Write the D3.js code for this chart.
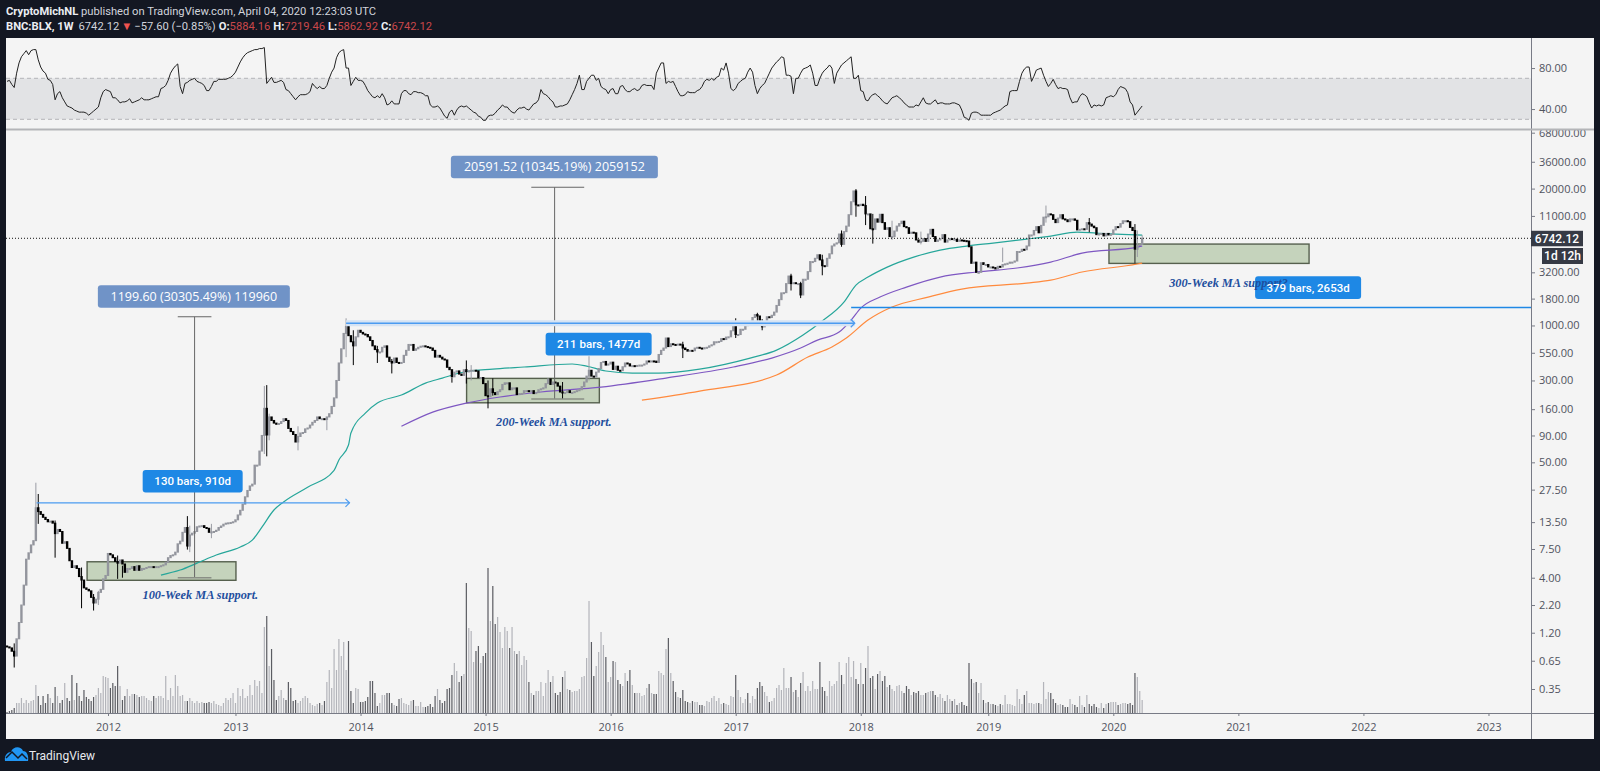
<!DOCTYPE html>
<html>
<head>
<meta charset="utf-8">
<script src="https://cdn.jsdelivr.net/npm/d3@7/dist/d3.min.js"></script>
<style>
html, body { margin: 0; padding: 0; background: #131722; overflow: hidden; }
svg { display: block; font-family: Roboto, sans-serif; }
</style>
</head>
<body>
<svg id="chart"></svg>
<script>
// weekly closes, one array per calendar year (first bar is mid March 2011)
const closes2011 = [.88,.86,.80,.72,1.05,1.5,2.2,3.4,6.0,6.9,8.2,9.0,18.5,17,16,15,14.3,13.6,13.8,13.2,10.5,11.5,11,8.5,8.8,7.6,5.8,5.0,5.2,4.9,4.1,3.8,3.2,3.1,3.0,2.6,2.3,2.5,2.9,3.1,3.9,4.2];
const closes2012 = [6.8,6.6,6.2,5.7,5.5,5.9,5.4,4.5,4.9,4.9,5.1,4.7,5.2,4.7,4.9,4.9,5,5.1,5.1,5,5.1,5.1,5.2,5.3,5.6,6.2,6.5,6.6,7,8.4,8.9,10.8,12,8,10.2,10.6,11,12.2,12.4,12.5,12,11.8,10.8,10.9,11,11.3,12,12.4,12.9,13.2,13.3,13.4,13.6];
const closes2013 = [14.2,15.8,17.5,20,23.5,27,29.8,31,47,47,64,90,163,91,135,125,118,115,117,122,130,125,105,98,92,78,88,95,96,104,106,113,120,125,135,130,130,128,135,145,170,205,300,440,600,840,980,800,700,640,780,900];
const closes2014 = [860,830,820,780,720,640,590,560,560,620,640,500,455,440,490,445,440,445,520,580,660,660,580,600,620,635,640,630,620,610,580,500,520,500,480,470,400,380,325,360,370,345,335,380,365,370,375,375,370,320,320,280];
const closes2015 = [215,210,250,230,220,235,245,275,285,285,245,255,255,220,225,226,240,240,238,240,225,230,245,250,255,280,310,275,290,285,265,233,228,230,240,230,231,235,240,245,262,290,330,375,330,325,360,390,445,455,420,430];
const closes2016 = [448,382,410,375,372,405,440,432,412,415,410,417,420,420,430,460,450,460,458,445,530,580,610,760,630,670,660,650,665,655,610,590,570,580,575,610,620,610,600,615,620,640,655,700,700,705,750,735,775,780,890,1000];
const closes2017 = [820,820,920,920,1020,1000,1050,1190,1270,1230,1020,970,1080,1210,1190,1250,1340,1550,1760,2040,2050,2500,2950,2500,2550,2500,2500,1950,2750,2750,3250,4050,4050,4350,4700,4200,3700,3650,4350,4800,5700,5950,6100,7400,5900,7800,8800,11300,15000,19000,14000,13800];
const closes2018 = [14200,13800,11500,11500,8300,8200,10300,9600,11400,9500,8200,8500,7000,7000,7900,8800,9300,9800,8700,8500,7500,7700,7600,6500,6200,6300,6700,6300,7400,8200,7000,6300,6500,6700,7300,6200,6500,6700,6600,6600,6300,6500,6450,6400,6350,5600,3900,4000,3200,3200,3950,3800,3800];
const closes2019 = [3600,3600,3550,3450,3650,3600,3800,3850,3900,4000,4000,4100,5050,5050,5300,5250,5700,7250,7250,8000,8700,7600,8950,10700,10800,11500,11300,10200,9500,10500,11300,10300,10100,9700,10300,10300,10000,8100,8200,8300,8200,9500,9200,8800,8500,7300,7400,7500,7100,7500,7250,7350];
const closes2020 = [8100,8700,8600,9300,9900,9900,9700,8550,8000,5300,5800,5880,6742.12];

// the longer wicks: [bar, high, low]
const wicks = [[3,.95,.56],[12,32,9],[13,25,13],[20,14,6.2],[31,5,2.05],[36,2.8,1.95],[38,3,2.2],[46,6.5,3.9],[48,5.2,4],[75,15.4,7.4],[76,12.5,7],[85,13,9.5],
  [107,266,60],[108,271,57],[109,145,81],[121,110,65],[133,135,101],[141,1170,500],[144,900,420],[154,640,440],[160,480,350],[185,320,286],[191,465,280],[193,420,300],
  [200,300,163],[202,314,215],[231,290,200],[242,510,300],[281,700,490],[303,1170,760],[312,1320,1000],[314,1150,900],[326,3100,2150],[330,2600,1820],[339,4700,3000],
  [347,8000,5600],[353,19800,10800],[357,17000,9000],[360,11500,6000],[368,9900,6500],[380,7800,5900],[414,5500,4000],[432,13800,9500],[450,10500,7700],[469,9200,7600],[470,8000,4470],[472,7219.46,5862.92]];

// volume, read as bar heights relative to the tallest week
const volume2011 = [1,2,3,5,10,10,15,10,13,10,12,13,28,17,8,17,10,19,15,10,26,17,10,13,30,15,12,38,13,30,17,12,23,16,14,12,16,18,25,20,37,36];
const volume2012 = [35,25,30,27,47,27,13,17,24,17,19,19,18,16,17,17,15,13,12,17,15,17,17,15,37,13,25,17,38,27,17,18,12,12,15,12,10,12,10,11,10,10,11,10,12,9,8,7,10,15,13,15,20];
const volume2013 = [10,25,17,24,15,17,28,18,33,27,32,20,86,97,47,64,33,13,17,23,15,13,31,25,12,13,10,12,15,17,15,10,8,7,9,10,8,12,31,43,25,64,43,74,57,71,43,72,22,10,25,24];
const volume2014 = [11,11,12,16,32,32,20,7,10,18,18,20,20,10,8,7,14,15,10,9,8,12,13,7,7,11,6,6,7,9,6,17,24,13,10,12,24,25,38,50,42,31,37,39,130,85,82,51,62,67,50,57];
const volume2015 = [60,145,92,127,89,96,81,65,86,82,65,86,62,59,62,48,57,53,31,20,18,22,22,31,17,30,43,31,37,20,18,21,36,42,24,23,21,22,22,24,36,37,55,112,71,37,47,61,81,68,56,31];
const volume2016 = [36,52,51,33,29,27,40,32,43,28,20,20,20,17,18,25,29,20,19,19,42,40,38,64,75,40,32,21,16,15,23,12,11,10,12,11,11,8,8,7,12,11,15,17,12,15,9,10,9,8,17,16];
const volume2017 = [38,23,16,10,14,20,10,17,14,25,31,27,21,17,11,12,15,25,28,23,45,25,25,36,21,23,16,30,41,22,27,22,32,24,24,51,26,22,17,32,27,29,32,51,38,29,50,56,36,52,34,29];
const volume2018 = [50,29,45,67,35,37,24,39,42,32,37,26,28,24,22,27,28,22,20,27,24,18,21,20,22,18,18,20,21,22,22,18,16,19,15,12,18,14,12,14,8,10,11,8,7,50,34,30,31,20,30,13,10];
const volume2019 = [11,9,9,8,7,9,8,18,9,9,8,7,24,14,9,18,22,10,10,9,10,10,9,31,14,21,20,14,10,8,9,8,6,6,14,9,8,6,17,8,6,18,9,7,9,6,5,10,5,9,10,11];
const volume2020 = [11,11,8,9,10,10,9,10,8,40,36,22,13];

// RSI per week
const rsi2011 = [67,68,64,61,75,85,91,94,97,93,97,98,98,88,81,77,75,69,68,64,49,55,57,51,47,43,42,41,39,38,37,37,37,36,34,36,38,40,42,51,57,59];
const rsi2012 = [58,57,51,51,49,46,47,47,48,50,46,47,48,49,51,49,49,49,50,51,52,52,60,61,63,68,75,79,82,84,62,55,65,66,68,69,70,67,66,65,63,58,58,62,67,67,69,69,69,69,70,71,73];
const rsi2013 = [76,81,86,90,93,95,96,97,98,98,99,99,100,65,68,71,66,66,67,68,66,59,58,55,52,49,52,54,54,54,55,57,65,62,60,62,60,60,63,70,76,80,90,95,97,98,80,80,63,67,71,68];
const rsi2014 = [68,67,63,58,55,52,51,53,51,55,51,44,45,48,45,45,45,55,58,58,55,54,57,57,56,56,55,53,53,44,42,42,43,41,37,33,31,37,39,34,39,42,43,42,43,41,39,37,36,33,32,29];
const rsi2015 = [29,33,34,34,36,39,41,44,42,42,39,37,36,39,41,41,42,40,39,42,45,46,49,59,55,54,52,49,47,42,42,43,43,44,45,49,54,59,65,73,59,59,67,70,73,73,68,70,62,60,59,55];
const rsi2016 = [59,60,55,55,62,63,59,57,57,59,60,58,59,63,64,63,63,63,59,75,80,85,85,65,67,66,67,62,57,53,53,54,57,56,56,56,58,59,62,67,69,68,70,68,71,72,80,78,85,75,60,58];
const rsi2017 = [60,65,67,69,70,76,80,76,63,55,60,63,65,70,75,80,83,86,88,91,90,73,73,72,55,70,70,75,79,80,81,83,75,63,63,70,75,78,80,83,80,65,75,79,83,85,87,89,91,70,70,73];
const rsi2018 = [58,57,49,48,52,54,55,53,51,48,46,45,48,51,52,53,51,49,46,44,42,42,42,44,43,47,51,46,45,45,47,49,45,46,46,45,45,45,46,46,45,44,39,32,31,29,36,37,37,36,34,34,34];
const rsi2019 = [34,34,36,37,38,39,41,43,44,57,58,58,58,67,75,79,81,81,67,72,78,79,80,73,67,62,65,69,64,60,61,60,60,59,51,46,47,47,52,55,54,52,46,41,44,43,44,43,44,51,52,53];
const rsi2020 = [52,54,59,62,61,60,56,47,44,34,37,40,43];

// moving averages, bar index and price read at a handful of spots
const ma100Bars = [64,72,79,87,97,102,106,111,115,125,136,138,142,143,149,154,164,174,181,190,202,215,235,241,249,260,271,288,309,320,331,339,348,353,358,366,377,388,399,410,424,434,445,453,461,472];
const ma100Vals = [4.24,4.73,5.5,6.57,7.83,9.1,12.1,17.6,21,29,42,52.6,73,95,147,183,218,283,316,361,385,403,430,411,369,353,353,385,490,583,811,1102,1667,2421,2884,3589,4467,5212,5689,6067,6622,7079,7727,7551,7396,7228];
const ma200Bars = [164,177,191,205,222,247,274,302,318,330,337,346,351,355,363,374,388,403,420,434,447,470,472];
const ma200Vals = [110,150,183,209,233,259,316,403,490,610,726,865,1125,1462,1862,2317,2884,3221,3516,4008,4875,5559,5689];
const ma300Bars = [264,288,320,333,343,349,358,368,383,397,424,434,447,470,472];
const ma300Vals = [195,238,338,501,624,759,1125,1496,1862,2218,2530,2703,3221,3837,3919];

const priceTicks = [68000,36000,20000,11000,3200,1800,1000,550,300,160,90,50,27.5,13.5,7.5,4,2.2,1.2,0.65,0.35];
const rsiTicks = [80,40];
const yearBars = [42,95,147,199,251,303,355,408,460,512,564,616];
const yearLabels = ["2012","2013","2014","2015","2016","2017","2018","2019","2020","2021","2022","2023"];

// drawings on the chart, in bars and prices
const boxes = [
  {x0: 33.3, x1: 95.2, top: 5.67, bottom: 3.78},
  {x0: 191.1, x1: 246.3, top: 314, bottom: 184},
  {x0: 458.2, x1: 541.4, top: 5940, bottom: 3890}
];
const priceTools = [
  {bar: 78, bar0: 71, bar1: 85, top: 1210, bottom: 4, label: "1199.60 (30305.49%) 119960", labelBar: 77.7},
  {bar: 227.7, bar0: 218, bar1: 240, top: 20600, bottom: 200, label: "20591.52 (10345.19%) 2059152", labelBar: 227.6}
];
const timeArrows = [
  {bar0: 12.3, bar1: 142.4, price: 20.6, band: false},
  {bar0: 141, bar1: 352.5, price: 1050, band: true}
];
const barLabels = [
  {text: "130 bars, 910d", bar: 77.2, price: 33, w: 100},
  {text: "211 bars, 1477d", bar: 246, price: 665, w: 106},
  {text: "379 bars, 2653d", bar: 541, price: 2290, w: 106}
];
const notes = [
  {text: "100-Week MA support.", bar: 80.4, price: 2.51},
  {text: "200-Week MA support.", bar: 227.4, price: 111},
  {text: "300-Week MA support?", bar: 507.9, price: 2333}
];
const lastPrice = 6742.12;
const rayBar = 351, rayPrice = 1485;

const W = 1600, H = 771;
const paneLeft = 6, paneRight = 1594, axisX = 1531, paneTop = 38, paneBottom = 739, baseY = 713, sepY = 129.5;

const closes = [].concat(closes2011, closes2012, closes2013, closes2014, closes2015, closes2016, closes2017, closes2018, closes2019, closes2020);
const volumes = [].concat(volume2011, volume2012, volume2013, volume2014, volume2015, volume2016, volume2017, volume2018, volume2019, volume2020);
const rsi = [].concat(rsi2011, rsi2012, rsi2013, rsi2014, rsi2015, rsi2016, rsi2017, rsi2018, rsi2019, rsi2020);
const wickByBar = new Map(wicks.map(d => [d[0], d]));

const bars = closes.map((c, i) => {
  const open = i ? closes[i - 1] : c * 1.02;
  const w = wickByBar.get(i);
  return {i, open, close: c, high: w ? w[1] : Math.max(open, c), low: w ? w[2] : Math.min(open, c), vol: volumes[i], rsi: rsi[i]};
});

const xScale = d3.scaleLinear().domain([0, 618]).range([7, 7 + 618 * 2.405]);
const yScale = d3.scaleLog().domain([0.35, 68000]).range([689, 132.7]);
const rsiScale = d3.scaleLinear().domain([30, 70]).range([119.3, 78.3]);
const volScale = d3.scaleLinear().domain([0, 145]).range([baseY, baseY - 145]);

const svg = d3.select("#chart").attr("width", W).attr("height", H);
svg.append("rect").attr("width", W).attr("height", H).attr("fill", "#131722");
svg.append("rect").attr("x", paneLeft).attr("y", paneTop).attr("width", paneRight - paneLeft).attr("height", paneBottom - paneTop).attr("fill", "#f4f4f4");

// rsi pane
svg.append("rect").attr("x", paneLeft).attr("width", axisX - paneLeft)
  .attr("y", rsiScale(70)).attr("height", rsiScale(30) - rsiScale(70)).attr("fill", "#e2e3e5");
[70, 30].forEach(v => {
  svg.append("line").attr("x1", paneLeft).attr("x2", axisX).attr("y1", rsiScale(v)).attr("y2", rsiScale(v))
    .attr("stroke", "#b4b5b8").attr("stroke-dasharray", "4 3");
});
svg.append("path").datum(bars)
  .attr("fill", "none").attr("stroke", "#222").attr("stroke-width", 1)
  .attr("d", d3.line().x(d => xScale(d.i)).y(d => rsiScale(d.rsi)));

// green boxes go under the candles
svg.append("g").selectAll("rect").data(boxes).join("rect")
  .attr("x", d => xScale(d.x0)).attr("width", d => xScale(d.x1) - xScale(d.x0))
  .attr("y", d => yScale(d.top)).attr("height", d => yScale(d.bottom) - yScale(d.top))
  .attr("fill", "#c5d3bc").attr("stroke", "#56604e").attr("stroke-width", 1.4);

// volume
svg.append("g").selectAll("rect").data(bars).join("rect")
  .attr("x", d => xScale(d.i) - 0.6).attr("width", 1.2)
  .attr("y", d => volScale(d.vol)).attr("height", d => baseY - volScale(d.vol))
  .attr("fill", d => d.close >= d.open ? "#b3b4ba" : "#5b5c62");

// moving averages
const maLine = d3.line().x(d => xScale(d[0])).y(d => yScale(d[1])).curve(d3.curveMonotoneX);
[[ma100Bars, ma100Vals, "#26a69a"], [ma200Bars, ma200Vals, "#7e57c2"], [ma300Bars, ma300Vals, "#ff8a3d"]].forEach(([b, v, color]) => {
  svg.append("path").datum(b.map((x, i) => [x, v[i]]))
    .attr("fill", "none").attr("stroke", color).attr("stroke-width", 1.2).attr("d", maLine);
});

// candles
const candles = svg.append("g");
candles.selectAll("line").data(bars.filter(d => wickByBar.has(d.i))).join("line")
  .attr("x1", d => xScale(d.i)).attr("x2", d => xScale(d.i))
  .attr("y1", d => yScale(d.high)).attr("y2", d => yScale(d.low))
  .attr("stroke", d => d.close >= d.open ? "#9a9ca4" : "#000").attr("stroke-width", 1);
candles.selectAll("rect").data(bars).join("rect")
  .attr("x", d => xScale(d.i) - 1.2).attr("width", 2.4)
  .attr("y", d => yScale(Math.max(d.open, d.close)) - 0.5)
  .attr("height", d => Math.max(2, Math.abs(yScale(d.open) - yScale(d.close)) + 1))
  .attr("fill", d => d.close >= d.open ? "#93959d" : "#000");

// last price dotted line
svg.append("line").attr("x1", paneLeft).attr("x2", axisX).attr("y1", yScale(lastPrice)).attr("y2", yScale(lastPrice))
  .attr("stroke", "#111").attr("stroke-dasharray", "1 2");

// price range tools
const tools = svg.append("g").attr("stroke", "#666").attr("stroke-width", 1);
priceTools.forEach(d => {
  tools.append("line").attr("x1", xScale(d.bar)).attr("x2", xScale(d.bar)).attr("y1", yScale(d.top)).attr("y2", yScale(d.bottom));
  tools.append("line").attr("x1", xScale(d.bar0)).attr("x2", xScale(d.bar1)).attr("y1", yScale(d.top)).attr("y2", yScale(d.top));
  tools.append("line").attr("x1", xScale(d.bar0)).attr("x2", xScale(d.bar1)).attr("y1", yScale(d.bottom)).attr("y2", yScale(d.bottom)).attr("stroke", "#8a8f86").attr("stroke-width", 1.5);
});
// third tool only shows its stem inside the right box
tools.append("line").attr("x1", xScale(469)).attr("x2", xScale(469)).attr("y1", yScale(5300)).attr("y2", yScale(3890)).attr("stroke", "#222");

// blue date range arrows
timeArrows.forEach(d => {
  const y = yScale(d.price), x0 = xScale(d.bar0), x1 = xScale(d.bar1);
  if (d.band) svg.append("rect").attr("x", x0).attr("width", x1 - x0).attr("y", y - 3).attr("height", 6).attr("fill", "#d5e3f4");
  svg.append("line").attr("x1", x0).attr("x2", x1).attr("y1", y).attr("y2", y).attr("stroke", "#4b9bf0").attr("stroke-width", 1.3);
  svg.append("path").attr("d", `M${x1 - 4},${y - 4}L${x1},${y}L${x1 - 4},${y + 4}`).attr("fill", "none").attr("stroke", "#4b9bf0").attr("stroke-width", 1.2);
});
svg.append("line").attr("x1", xScale(rayBar)).attr("x2", axisX).attr("y1", yScale(rayPrice)).attr("y2", yScale(rayPrice))
  .attr("stroke", "#1e88e5").attr("stroke-width", 1.5);

// labels
priceTools.forEach(d => {
  const cx = xScale(d.labelBar);
  const y = yScale(d.top) - 31.5;
  const w = d.label.length > 26 ? 207 : 192;
  svg.append("rect").attr("x", cx - w / 2).attr("y", y).attr("width", w).attr("height", 22.5).attr("rx", 3).attr("fill", "#7093c7");
  svg.append("text").attr("x", cx).attr("y", y + 15.5).attr("text-anchor", "middle").attr("fill", "#fff").attr("font-family", '"Open Sans", sans-serif').attr("font-size", 12.5).text(d.label);
});
barLabels.forEach(d => {
  const cx = xScale(d.bar), cy = yScale(d.price);
  svg.append("rect").attr("x", cx - d.w / 2).attr("y", cy - 11.3).attr("width", d.w).attr("height", 22.6).attr("rx", 3).attr("fill", "#1e88e5");
});
svg.append("g").selectAll("text").data(notes).join("text")
  .attr("x", d => xScale(d.bar)).attr("y", d => yScale(d.price)).attr("text-anchor", "middle")
  .attr("font-family", '"Liberation Serif", serif').attr("font-style", "italic").attr("font-weight", "bold")
  .attr("font-size", 12.3).attr("fill", "#1f4f9e").text(d => d.text);
svg.append("g").selectAll("text").data(barLabels).join("text")
  .attr("x", d => xScale(d.bar)).attr("y", d => yScale(d.price) + 4).attr("text-anchor", "middle")
  .attr("font-size", 11.5).attr("font-weight", 500).attr("fill", "#fff").text(d => d.text);

// axes
const xAxis = svg.append("g").attr("transform", `translate(0,${baseY})`)
  .call(d3.axisBottom(xScale).tickValues(yearBars).tickFormat((d, i) => yearLabels[i]).tickSize(3).tickPadding(7));
const yAxis = svg.append("g").attr("transform", `translate(${axisX},0)`)
  .call(d3.axisRight(yScale).tickValues(priceTicks).tickFormat(d3.format(".2f")).tickSize(4).tickPadding(4));
const rsiAxis = svg.append("g").attr("transform", `translate(${axisX},0)`)
  .call(d3.axisRight(rsiScale).tickValues(rsiTicks).tickFormat(d3.format(".2f")).tickSize(4).tickPadding(4));
[xAxis, yAxis, rsiAxis].forEach(a => {
  a.selectAll(".domain").remove();
  a.selectAll(".tick line").attr("stroke", "#787b86");
  a.selectAll("text").attr("fill", "#50535e").attr("font-size", 11).attr("font-family", '"Open Sans", sans-serif');
});
svg.append("line").attr("x1", paneLeft).attr("x2", paneRight).attr("y1", baseY + .5).attr("y2", baseY + .5).attr("stroke", "#787b86");
svg.append("line").attr("x1", axisX + .5).attr("x2", axisX + .5).attr("y1", paneTop).attr("y2", paneBottom).attr("stroke", "#787b86");
svg.append("line").attr("x1", paneLeft).attr("x2", paneRight).attr("y1", sepY).attr("y2", sepY).attr("stroke", "#b4b5b8").attr("stroke-width", 2);

// last price tags on the axis
svg.append("rect").attr("x", axisX).attr("y", yScale(lastPrice) - 7.5).attr("width", 52).attr("height", 15.5).attr("fill", "#363a45");
svg.append("text").attr("x", axisX + 26).attr("y", yScale(lastPrice) + 4.3).attr("text-anchor", "middle").attr("fill", "#fff")
  .attr("font-size", 12).attr("font-weight", 500).text("6742.12");
svg.append("rect").attr("x", 1542).attr("y", 248).attr("width", 41).attr("height", 16).attr("fill", "#363a45");
svg.append("text").attr("x", 1562.5).attr("y", 260.3).attr("text-anchor", "middle").attr("fill", "#fff")
  .attr("font-size", 12).attr("font-weight", 500).text("1d 12h");

// header
const head1 = svg.append("text").attr("x", 6).attr("y", 15).attr("font-size", 11.2).attr("fill", "#d1d4dc");
head1.append("tspan").attr("font-weight", 700).attr("fill", "#eceef2").text("CryptoMichNL");
head1.append("tspan").text(" published on TradingView.com, April 04, 2020 12:23:03 UTC");
const head2 = svg.append("text").attr("x", 6).attr("y", 30).attr("font-size", 11.2).attr("fill", "#d1d4dc");
head2.append("tspan").attr("font-weight", 700).attr("fill", "#eceef2").text("BNC:BLX, 1W");
head2.append("tspan").attr("dx", 5).text("6742.12");
head2.append("tspan").attr("dx", 2).attr("fill", "#ef5350").text("▼");
head2.append("tspan").attr("dx", 2).text("−57.60 (−0.85%)");
[["O:", "5884.16"], ["H:", "7219.46"], ["L:", "5862.92"], ["C:", "6742.12"]].forEach(([k, v]) => {
  head2.append("tspan").attr("dx", 3).attr("font-weight", 700).attr("fill", "#eceef2").text(k);
  head2.append("tspan").attr("fill", "#c9474a").text(v);
});

// footer logo
svg.append("path").attr("d", "M5,761 C4,755 8,752 11,752 C13,746 21,746 23,751 C27,751 29,756 28,761 Z").attr("fill", "#2196f3");
svg.append("path").attr("d", "M6,758 L12,752 L18,758 L22,754 L27,759").attr("fill", "none").attr("stroke", "#131722").attr("stroke-width", 1.5);
svg.append("text").attr("x", 29).attr("y", 759.5).attr("font-size", 12).attr("fill", "#e8eaee").text("TradingView");
</script>
</body>
</html>
